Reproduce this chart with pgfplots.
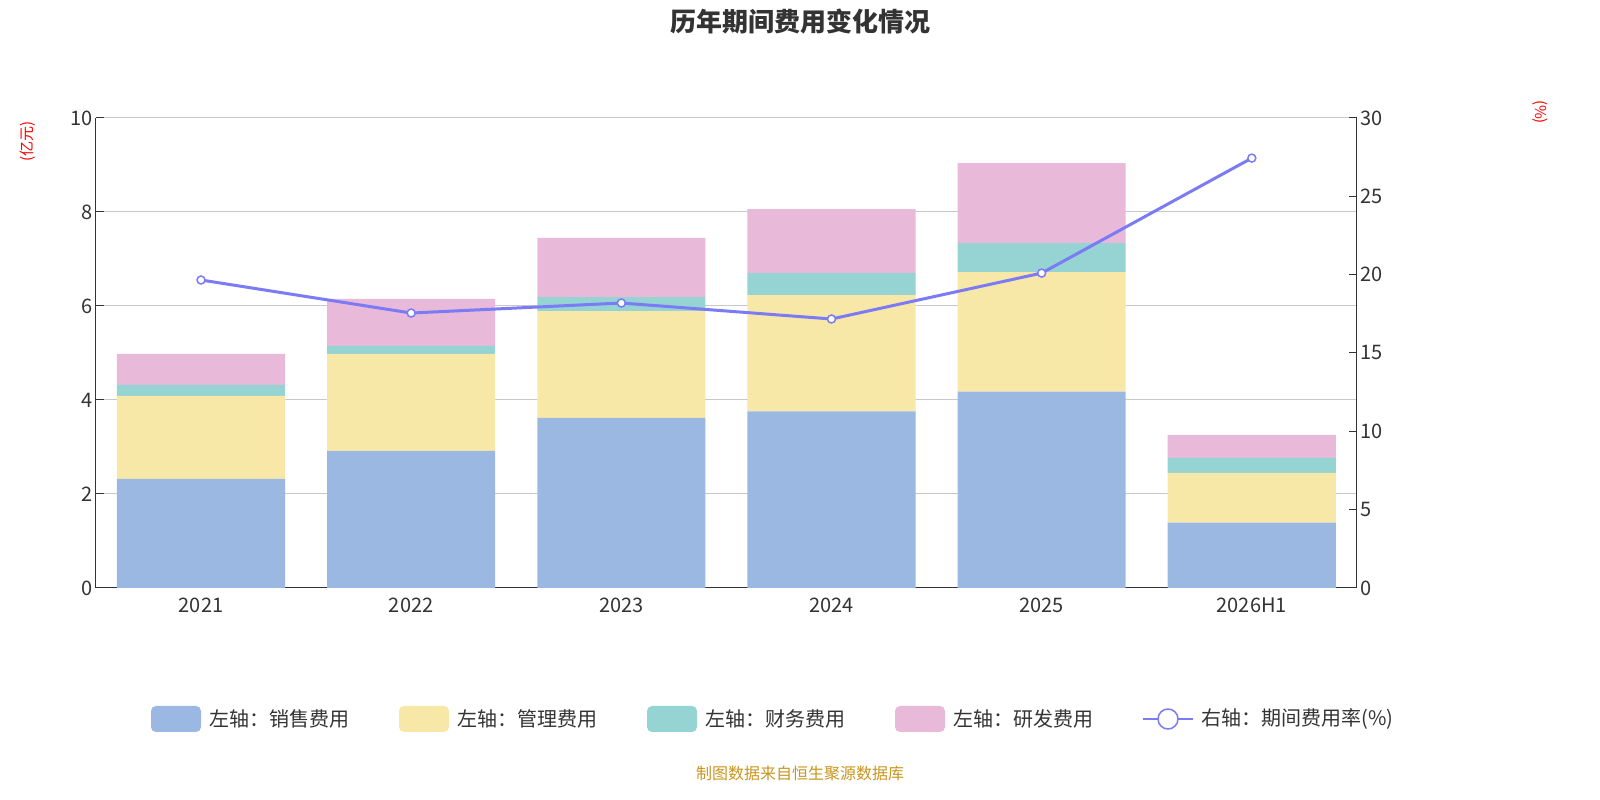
\documentclass[border=0pt]{standalone}
\usepackage{pgfplots}
\pgfplotsset{compat=1.18}
\usepackage{fontspec}
\setmainfont{Noto Sans CJK SC}
\definecolor{cS}{HTML}{9BB8E2}
\definecolor{cA}{HTML}{F8E8A8}
\definecolor{cF}{HTML}{96D3D3}
\definecolor{cR}{HTML}{E8B9D9}
\definecolor{cL}{HTML}{7B7BF5}
\definecolor{gridc}{HTML}{C8C8C8}
\definecolor{txt}{HTML}{333333}
\begin{document}
\begin{tikzpicture}
\path[use as bounding box] (0pt,0pt) rectangle (1600pt,800pt);
\begin{axis}[at={(201pt,212pt)},anchor=origin,scale only axis,width=1261pt,height=470pt,
  ybar stacked,bar width=0.8,
  xmin=-0.5,xmax=5.5,ymin=0,ymax=10,ytick={0,2,4,6,8,10},
  xtick={0,...,5},xticklabels={2021,2022,2023,2024,2025,2026H1},
  extra x ticks={-0.5,0.5,1.5,2.5,3.5,4.5,5.5},extra x tick labels={},
  extra x tick style={major tick length=8pt,grid=none,tick style={txt,line width=1pt}},
  x tick style={draw=none},
  ymajorgrids,grid style={gridc,line width=1pt},
  axis y line*=left,axis x line*=bottom,
  axis line style={txt,line width=1pt},
  y tick style={txt,line width=1pt},major tick length=8pt,
  tick label style={font=\fontsize{20}{20}\selectfont,text=txt},
  /pgf/number format/assume math mode=true,
  xticklabel style={yshift=-6pt},
  ylabel={(亿元)},ylabel style={font=\fontsize{15}{15}\selectfont,text=red,at={(axis description cs:-0.045,1)},anchor=south east,rotate=0},
]
\addplot[fill=cS,draw=none] coordinates {(0,2.32)(1,2.92)(2,3.62)(3,3.76)(4,4.18)(5,1.39)};
\addplot[fill=cA,draw=none] coordinates {(0,1.77)(1,2.06)(2,2.27)(3,2.47)(4,2.54)(5,1.06)};
\addplot[fill=cF,draw=none] coordinates {(0,0.23)(1,0.17)(2,0.30)(3,0.47)(4,0.62)(5,0.32)};
\addplot[fill=cR,draw=none] coordinates {(0,0.66)(1,1.00)(2,1.26)(3,1.36)(4,1.70)(5,0.49)};
\node[font=\fontsize{22}{22}\selectfont] at (axis cs:0,1.16) {2.32};
\node[font=\fontsize{22}{22}\selectfont] at (axis cs:1,1.46) {2.92};
\node[font=\fontsize{22}{22}\selectfont] at (axis cs:2,1.81) {3.62};
\node[font=\fontsize{22}{22}\selectfont] at (axis cs:3,1.88) {3.76};
\node[font=\fontsize{22}{22}\selectfont] at (axis cs:4,2.09) {4.18};
\node[font=\fontsize{22}{22}\selectfont] at (axis cs:5,0.70) {1.39};
\end{axis}
\begin{axis}[at={(201pt,212pt)},anchor=origin,scale only axis,width=1261pt,height=470pt,
  xmin=-0.5,xmax=5.5,ymin=0,ymax=30,ytick={0,5,...,30},
  axis y line*=right,axis x line=none,
  axis line style={txt,line width=1pt},
  y tick style={txt,line width=1pt},major tick length=8pt,
  tick label style={font=\fontsize{20}{20}\selectfont,text=txt},
  /pgf/number format/assume math mode=true,
]
\addplot[cL,line width=3pt,mark=*,mark size=4pt,mark options={fill=white,draw=cL,line width=1.5pt}]
 coordinates {(0,19.66)(1,17.55)(2,18.19)(3,17.17)(4,20.1)(5,27.44)};
\end{axis}
\node[text=red,font=\fontsize{15}{15}\selectfont,rotate=-90] at (1540pt,688pt) {(\%)};
\node[font=\bfseries\fontsize{26}{26}\selectfont,text=txt] at (800pt,778pt) {历年期间费用变化情况};
\node[font=\fontsize{16}{16}\selectfont,text={rgb,255:red,200;green,149;blue,30}] at (800pt,27pt) {制图数据来自恒生聚源数据库};
\begin{scope}[font=\fontsize{20}{20}\selectfont]
\fill[cS,rounded corners=5pt] (151pt,68pt) rectangle (201pt,94pt);
\node[anchor=west,text=txt] at (206pt,81pt) {左轴：销售费用};
\fill[cA,rounded corners=5pt] (399pt,68pt) rectangle (449pt,94pt);
\node[anchor=west,text=txt] at (454pt,81pt) {左轴：管理费用};
\fill[cF,rounded corners=5pt] (647pt,68pt) rectangle (697pt,94pt);
\node[anchor=west,text=txt] at (702pt,81pt) {左轴：财务费用};
\fill[cR,rounded corners=5pt] (895pt,68pt) rectangle (945pt,94pt);
\node[anchor=west,text=txt] at (950pt,81pt) {左轴：研发费用};
\draw[cL,line width=2pt] (1143pt,81pt)--(1193pt,81pt);
\draw[cL,line width=1.5pt,fill=white] (1168pt,81pt) circle (10pt);
\node[anchor=west,text=txt] at (1198pt,81pt) {右轴：期间费用率(\%)};
\end{scope}
\end{tikzpicture}
\end{document}
